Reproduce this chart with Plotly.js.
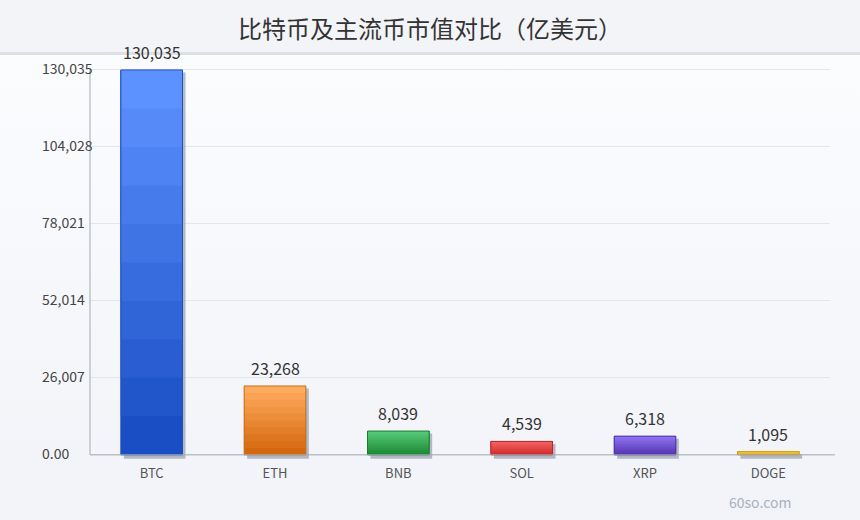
<!DOCTYPE html>
<html>
<head>
<meta charset="utf-8">
<script src="https://cdn.plot.ly/plotly-3.0.1.min.js"></script>
<style>
  html, body { margin: 0; padding: 0; }
  #wrap { position: relative; width: 860px; height: 520px;
    background: linear-gradient(to bottom, #f3f4f8 0px, #f3f4f8 52px, #dde0e6 52px, #dde0e6 55px, #fbfcfe 55px, #f1f3f8 520px); }
  #chart { position: absolute; left: 0; top: 0; width: 860px; height: 520px; }
</style>
</head>
<body>
<div id="wrap"><div id="chart"></div></div>
<script>
// ---- data ----
const categories = ["BTC", "ETH", "BNB", "SOL", "XRP", "DOGE"];
const marketCap = [130035, 23268, 8039, 4539, 6318, 1095];
const valueLabels = ["130,035", "23,268", "8,039", "4,539", "6,318", "1,095"];
const yTickVals = [0, 26007, 52014, 78021, 104028, 130035];
const yTickText = ["0.00", "26,007", "52,014", "78,021", "104,028", "130,035"];
const titleText = "比特币及主流币市值对比（亿美元）";
const watermark = "60so.com";

// ---- styles ----
const topColors = ["#5c92ff", "#ffab5e", "#55c878", "#f56262", "#8d72ef", "#f4c84a"];
const bottomColors = ["#1a4ec4", "#d4670d", "#1e8a36", "#cf2d2d", "#5836b4", "#e2ac1e"];
const lineColors = ["#2150bd", "#c66d1d", "#1b7a31", "#bb2626", "#47309e", "#d29c12"];
const FONT = "Noto Sans CJK SC, Noto Sans, sans-serif";
const N_BANDS = 10;
const plotTop = 68, plotBottom = 459;
const yMin = -1400, yMax = 130035 + 650;
const unitsPerPx = (yMax - yMin) / (plotBottom - plotTop);

function hex2rgb(h) { return [1,3,5].map(i => parseInt(h.substr(i,2),16)); }
function mix(a, b, t) {
  const A = hex2rgb(a), B = hex2rgb(b);
  return "rgb(" + A.map((v,i) => Math.round(v + (B[i]-v)*t)).join(",") + ")";
}

const traces = [];
// shadow
traces.push({
  type: "bar", x: categories,
  y: marketCap.map(v => v + (4 - 2.5) * unitsPerPx),
  base: marketCap.map(() => -4 * unitsPerPx),
  width: 0.5, offset: -0.25 + 3/123.33,
  marker: { color: "rgba(135,143,160,0.6)", line: { width: 0 } },
  hoverinfo: "skip", showlegend: false
});
// gradient bands (each band runs from its base to the top, so no seams)
for (let k = 0; k < N_BANDS; k++) {
  traces.push({
    type: "bar", x: categories,
    y: marketCap.map(v => v * (N_BANDS - k) / N_BANDS),
    base: marketCap.map(v => v * k / N_BANDS),
    width: 0.5,
    marker: { color: categories.map((c, i) => mix(bottomColors[i], topColors[i], k / (N_BANDS - 1))), line: { width: 0 } },
    hoverinfo: "skip", showlegend: false
  });
}
// outline
traces.push({
  type: "bar", x: categories, y: marketCap, width: 0.5,
  marker: { color: "rgba(0,0,0,0)", line: { color: lineColors, width: 1 } },
  hoverinfo: "x+y", showlegend: false
});

const annotations = yTickVals.map((v, i) => ({
  xref: "paper", yref: "y", x: -50/740, y: v, yshift: 1.5, xanchor: "left", yanchor: "middle",
  text: yTickText[i], showarrow: false,
  font: { family: FONT, size: 14, color: "#444444" }
}));
// value labels above bars
categories.forEach((c, i) => {
  annotations.push({
    xref: "x", yref: "y", x: c, y: marketCap[i], yanchor: "bottom", xanchor: "center", yshift: 4,
    text: valueLabels[i], showarrow: false,
    font: { family: FONT, size: 16, color: "#333333" }
  });
});
annotations.push({
  xref: "paper", yref: "paper", x: (760 - 90) / 740, y: (plotBottom - 502) / (plotBottom - plotTop),
  xanchor: "center", yanchor: "middle", text: watermark, showarrow: false,
  font: { family: FONT, size: 14, color: "#aab1bd" }
});

const layout = {
  width: 860, height: 520,
  margin: { l: 90, r: 30, t: plotTop, b: 520 - plotBottom, pad: 0 },
  paper_bgcolor: "rgba(0,0,0,0)", plot_bgcolor: "rgba(0,0,0,0)",
  barmode: "overlay",
  title: { text: titleText, x: 0.5, xanchor: "center", y: 1 - 30/520, yanchor: "middle", yref: "container",
    font: { family: FONT, size: 24, color: "#333333" } },
  xaxis: { type: "category", showline: false, showgrid: false, zeroline: false, ticks: "",
    ticklabelstandoff: 5,
    tickfont: { family: FONT, size: 13, color: "#555555" }, fixedrange: true },
  yaxis: { range: [yMin, yMax], tickvals: yTickVals, showticklabels: false, showgrid: true,
    gridcolor: "#e3e6ec", gridwidth: 1, zeroline: false, showline: false, ticks: "", fixedrange: true },
  shapes: [
    { type: "line", xref: "paper", yref: "y", x0: 0, x1: 0, y0: 0, y1: yMax,
      line: { color: "#a3a9b4", width: 1 } },
    { type: "line", xref: "paper", yref: "y", x0: 0, x1: (835 - 90) / 740, y0: 0, y1: 0,
      line: { color: "#a3a9b4", width: 1 } }
  ],
  annotations: annotations,
  font: { family: FONT }
};

Plotly.newPlot("chart", traces, layout, { displayModeBar: false, staticPlot: true });
</script>
</body>
</html>
